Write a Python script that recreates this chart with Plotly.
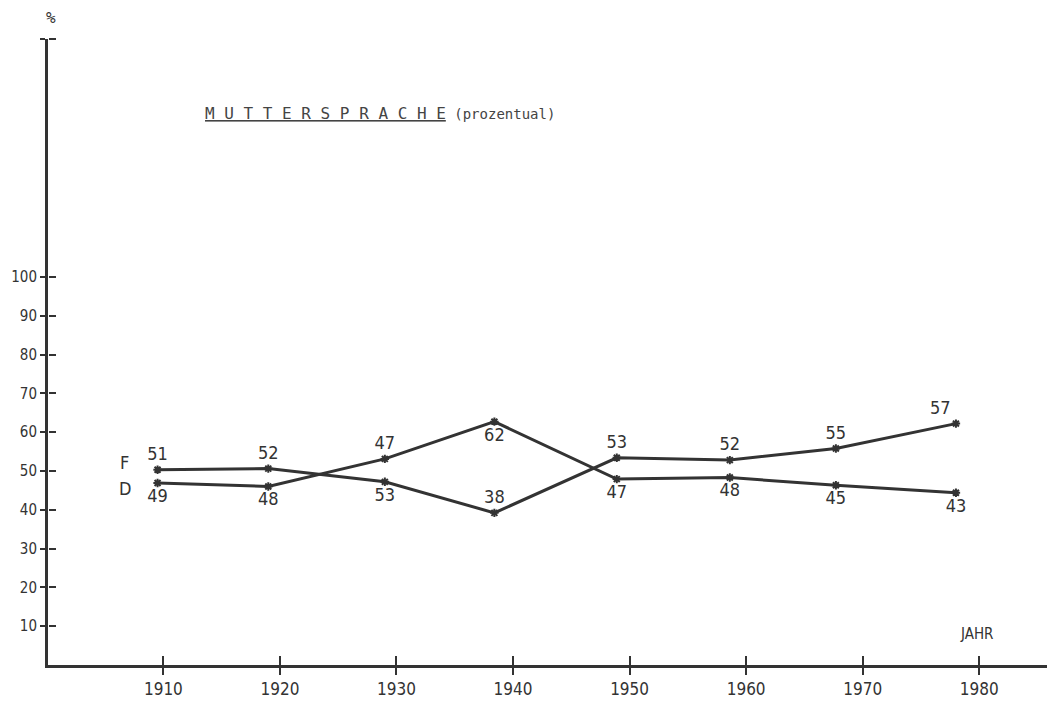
import plotly.graph_objects as go

# Zählungsjahre, so wie die Punkte im Bild stehen
jahre = [1909.5, 1919, 1929, 1938.4, 1948.9, 1958.6, 1967.7, 1978]

f_werte = [50.3, 50.6, 47.2, 39.2, 53.4, 52.8, 55.8, 62.2]
d_werte = [46.9, 46.0, 53.1, 62.7, 47.9, 48.3, 46.3, 44.4]

# beschriftete Werte
f_labels = ["51", "52", "53", "38", "53", "52", "55", "57"]
d_labels = ["49", "48", "47", "62", "47", "48", "45", "43"]
f_pos = ["top center", "top center", "bottom center", "top center",
         "top center", "top center", "top center", "top left"]
d_pos = ["bottom center", "bottom center", "top center", "bottom center",
         "bottom center", "bottom center", "bottom center", "bottom center"]

x_ticks = [1910, 1920, 1930, 1940, 1950, 1960, 1970, 1980]
y_ticks = [10, 20, 30, 40, 50, 60, 70, 80, 90, 100]

INK = "#333333"
NARROW = "DejaVu Sans Condensed, Liberation Sans Narrow, sans-serif"
MONO = "DejaVu Sans Mono, Liberation Mono, monospace"
X_RANGE = [1900.1, 1986.5]
Y_RANGE = [0, 161.3]
Y_TOP = 161.3

fig = go.Figure()
for werte, labels, pos in [(f_werte, f_labels, f_pos), (d_werte, d_labels, d_pos)]:
    fig.add_trace(go.Scatter(
        x=jahre, y=werte, mode="lines+markers+text",
        text=labels, textposition=pos,
        textfont=dict(family=NARROW, size=18, color=INK),
        line=dict(color=INK, width=3),
        marker=dict(symbol="asterisk", size=7, line=dict(color=INK, width=2)),
        showlegend=False, hoverinfo="skip"))

# unsichtbare Spur fuer die zweiten Achsen (Striche auf der Innenseite)
fig.add_trace(go.Scatter(x=[X_RANGE[0]], y=[Y_RANGE[0]], xaxis="x2", yaxis="y2",
                         mode="markers", marker=dict(opacity=0),
                         showlegend=False, hoverinfo="skip"))

# die Seite hat 8px Rand, daher 1047x693
fig.update_layout(
    width=1047, height=693,
    margin=dict(l=40, r=0, t=31, b=36),
    paper_bgcolor="white", plot_bgcolor="white",
    xaxis=dict(range=X_RANGE, tickvals=x_ticks, ticks="outside", ticklen=7,
               tickwidth=2, tickcolor=INK, showline=True, linewidth=3,
               linecolor=INK, showgrid=False, zeroline=False, automargin=False,
               ticklabelstandoff=0,
               tickfont=dict(family=NARROW, size=17, color=INK)),
    yaxis=dict(range=Y_RANGE, tickvals=y_ticks + [Y_TOP],
               ticktext=[str(v) for v in y_ticks] + [""],
               ticks="outside", ticklen=5, tickwidth=2, tickcolor=INK,
               showline=True, linewidth=3, linecolor=INK, showgrid=False,
               zeroline=False, automargin=False, ticklabelstandoff=0,
               tickfont=dict(family=NARROW, size=15, color=INK)),
    xaxis2=dict(range=X_RANGE, overlaying="x", anchor="y2", tickvals=x_ticks,
                ticks="inside", ticklen=9, tickwidth=2, tickcolor=INK,
                showticklabels=False, showgrid=False, zeroline=False,
                showline=False, automargin=False),
    yaxis2=dict(range=Y_RANGE, overlaying="y", anchor="free", position=0,
                side="right", tickvals=y_ticks + [Y_TOP], ticks="outside",
                ticklen=7, tickwidth=2, tickcolor=INK, showticklabels=False,
                showgrid=False, zeroline=False, showline=False,
                automargin=False),
)

fig.add_annotation(x=1906.7, y=52.1, text="F", showarrow=False,
                   font=dict(family=NARROW, size=18, color=INK))
fig.add_annotation(x=1906.7, y=45.6, text="D", showarrow=False,
                   font=dict(family=NARROW, size=18, color=INK))
fig.add_annotation(x=1979.8, y=8, text="JAHR", showarrow=False,
                   font=dict(family=NARROW, size=15, color=INK))
fig.add_annotation(xref="paper", yref="paper", x=-0.004, y=1.035, yanchor="middle",
                   text="%", showarrow=False,
                   font=dict(family=MONO, size=16, color=INK))
fig.add_annotation(xref="paper", yref="paper", x=0.154, y=0.899, xanchor="left",
                   text='<span style="text-decoration:underline">M U T T E R S P R A C H E</span>'
                        '<span style="font-size:14px"> (prozentual)</span>',
                   showarrow=False, font=dict(family=MONO, size=16, color="#444444"))

fig.write_html("out.html")
